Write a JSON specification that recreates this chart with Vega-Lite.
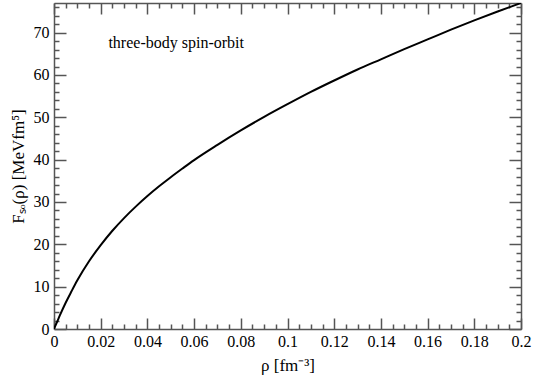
{
  "$schema": "https://vega.github.io/schema/vega-lite/v6.json",
  "width": 467,
  "height": 326,
  "autosize": {"type": "none"},
  "padding": {"left": 54, "top": 3, "right": 12, "bottom": 46},
  "background": "white",
  "config": {
    "view": {"stroke": null},
    "font": "Liberation Serif",
    "axis": {
      "domainColor": "#555555",
      "domainWidth": 1.5,
      "tickColor": "#555555",
      "tickWidth": 1.5,
      "grid": false,
      "labelFont": "Liberation Serif",
      "labelFontSize": 16,
      "labelColor": "black",
      "titleFont": "Liberation Serif",
      "titleFontSize": 17,
      "titleFontWeight": "normal",
      "titleColor": "black",
      "labelFlush": false,
      "labelOverlap": false
    }
  },
  "datasets": {
    "curve": [
      {"rho": 0, "F": 0},
      {"rho": 0.0005, "F": 0.7},
      {"rho": 0.001, "F": 1.3},
      {"rho": 0.0025, "F": 3.2},
      {"rho": 0.005, "F": 6.2},
      {"rho": 0.0075, "F": 8.9},
      {"rho": 0.01, "F": 11.5},
      {"rho": 0.015, "F": 16.0},
      {"rho": 0.02, "F": 19.8},
      {"rho": 0.025, "F": 23.2},
      {"rho": 0.03, "F": 26.2},
      {"rho": 0.035, "F": 28.9},
      {"rho": 0.04, "F": 31.4},
      {"rho": 0.045, "F": 33.7},
      {"rho": 0.05, "F": 35.85},
      {"rho": 0.055, "F": 37.9},
      {"rho": 0.06, "F": 39.9},
      {"rho": 0.07, "F": 43.5},
      {"rho": 0.08, "F": 46.9},
      {"rho": 0.09, "F": 50.1},
      {"rho": 0.1, "F": 53.1},
      {"rho": 0.11, "F": 56.0},
      {"rho": 0.12, "F": 58.7},
      {"rho": 0.13, "F": 61.3},
      {"rho": 0.14, "F": 63.7},
      {"rho": 0.15, "F": 66.1},
      {"rho": 0.16, "F": 68.4},
      {"rho": 0.17, "F": 70.7},
      {"rho": 0.18, "F": 72.9},
      {"rho": 0.19, "F": 75.0},
      {"rho": 0.2, "F": 77.0}
    ],
    "note": [{"label": "three-body spin-orbit"}]
  },
  "layer": [
    {
      "data": {"name": "curve"},
      "mark": {"type": "line", "color": "black", "strokeWidth": 2, "interpolate": "monotone", "clip": true},
      "encoding": {
        "x": {
          "field": "rho", "type": "quantitative",
          "scale": {"domain": [0, 0.2], "nice": false, "zero": false},
          "axis": {
            "orient": "bottom",
            "title": "ρ [fm⁻³]",
            "titlePadding": 2,
            "values": [0,0.005,0.01,0.015,0.02,0.025,0.03,0.035,0.04,0.045,0.05,0.055,0.06,0.065,0.07,0.075,0.08,0.085,0.09,0.095,0.1,0.105,0.11,0.115,0.12,0.125,0.13,0.135,0.14,0.145,0.15,0.155,0.16,0.165,0.17,0.175,0.18,0.185,0.19,0.195,0.2],
            "format": "~g",
            "labelExpr": "abs(datum.value*50 - round(datum.value*50)) < 1e-6 ? datum.label : ''",
            "tickSize": {"condition": {"test": "abs(datum.value*50 - round(datum.value*50)) < 1e-6", "value": -11}, "value": -5},
            "labelPadding": 15
          }
        },
        "y": {
          "field": "F", "type": "quantitative",
          "scale": {"domain": [0, 77], "nice": false, "zero": false},
          "axis": {
            "orient": "left",
            "title": "Fₛₒ(ρ)  [MeVfm⁵]",
            "titlePadding": 6,
            "values": [0,2,4,6,8,10,12,14,16,18,20,22,24,26,28,30,32,34,36,38,40,42,44,46,48,50,52,54,56,58,60,62,64,66,68,70,72,74,76],
            "format": "d",
            "labelExpr": "datum.value % 10 == 0 ? datum.label : ''",
            "tickSize": {"condition": {"test": "datum.value % 10 == 0", "value": -12}, "value": -5},
            "labelPadding": 17
          }
        }
      }
    },
    {
      "data": {"name": "curve"},
      "mark": {"type": "line", "opacity": 0},
      "encoding": {
        "x": {
          "field": "rho", "type": "quantitative",
          "axis": {
            "orient": "top", "title": null, "labels": false,
            "values": [0,0.005,0.01,0.015,0.02,0.025,0.03,0.035,0.04,0.045,0.05,0.055,0.06,0.065,0.07,0.075,0.08,0.085,0.09,0.095,0.1,0.105,0.11,0.115,0.12,0.125,0.13,0.135,0.14,0.145,0.15,0.155,0.16,0.165,0.17,0.175,0.18,0.185,0.19,0.195,0.2],
            "tickSize": {"condition": {"test": "abs(datum.value*50 - round(datum.value*50)) < 1e-6", "value": -11}, "value": -5}
          }
        },
        "y": {
          "field": "F", "type": "quantitative",
          "axis": {
            "orient": "right", "title": null, "labels": false,
            "values": [0,2,4,6,8,10,12,14,16,18,20,22,24,26,28,30,32,34,36,38,40,42,44,46,48,50,52,54,56,58,60,62,64,66,68,70,72,74,76],
            "tickSize": {"condition": {"test": "datum.value % 10 == 0", "value": -12}, "value": -5}
          }
        }
      }
    },
    {
      "data": {"name": "note"},
      "mark": {"type": "text", "align": "left", "baseline": "middle", "fontSize": 16, "font": "Liberation Serif", "color": "black"},
      "encoding": {
        "x": {"datum": 0.0233, "type": "quantitative", "axis": null},
        "y": {"datum": 67.5, "type": "quantitative", "axis": null},
        "text": {"field": "label"}
      }
    }
  ],
  "resolve": {"axis": {"x": "independent", "y": "independent"}}
}
